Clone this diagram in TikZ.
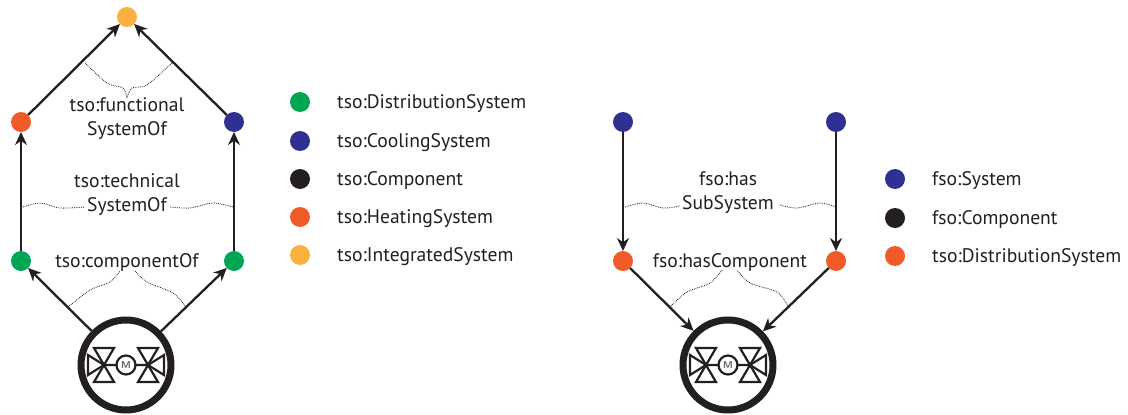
\documentclass[tikz,border=0pt]{standalone}
\usepackage{fontspec}
\setmainfont{PT Sans}
\usetikzlibrary{arrows.meta}
\definecolor{cgreen}{HTML}{00A651}
\definecolor{cnavy}{HTML}{2E3192}
\definecolor{cblack}{HTML}{231F20}
\definecolor{corange}{HTML}{F15A29}
\definecolor{cyellow}{HTML}{FBB040}
\tikzset{
	dot/.style={circle,fill=#1,minimum size=20pt,inner sep=0pt,outer sep=0pt},
	device/.style={circle,draw=cblack,line width=7pt,minimum size=90pt,inner sep=0pt},
	rel/.style={->,line width=2.3pt,draw=cblack},
	wavy/.style={densely dotted,line width=0.8pt,draw=cblack},
	lbl/.style={text=cblack,font=\fontsize{19.6}{24}\selectfont,align=center,inner sep=1pt},
	leg/.style={text=cblack,font=\fontsize{19.6}{24}\selectfont,anchor=west,inner sep=0pt},
	valve/.pic={
		\draw[cblack,line width=2.2pt,line join=miter] (-22,0)--(-38,-10)--(-38,10)--cycle;
		\draw[cblack,line width=2.2pt,line join=miter] (-22,0)--(-32,-17)--(-12,-17)--cycle (-22,0)--(-32,17)--(-12,17)--cycle;
		\draw[cblack,line width=2.2pt,line join=miter] (22,0)--(38,-10)--(38,10)--cycle;
		\draw[cblack,line width=2.2pt,line join=miter] (22,0)--(32,-17)--(12,-17)--cycle (22,0)--(32,17)--(12,17)--cycle;
		\draw[cblack,line width=2.2pt] (-22,0)--(-9.5,0) (9.5,0)--(22,0) (0,0) circle (9.5);
		\node[text=cblack!70,font=\sffamily\bfseries\fontsize{10}{10}\selectfont,inner sep=0pt] (-motor) at (0,0) {M};
	}
}
\begin{document}
\begin{tikzpicture}[x=1pt,y=-1pt,>={Stealth[length=13pt,width=12pt]},line join=round]
	\useasboundingbox (0,0) rectangle (1128,415);
	% left graph
	\node[dot=cyellow] (top) at (127,17) {};
	\node[dot=corange] (heat) at (21,122) {};
	\node[dot=cnavy] (cool) at (234,122) {};
	\node[dot=cgreen] (distL) at (21,261) {};
	\node[dot=cgreen] (distR) at (234,261) {};
	\node[device] (devL) at (126,365) {};
	\pic (valveL) at (126,365) {valve};
	\draw[rel] (devL)--(distL);
	\draw[rel] (devL)--(distR);
	\draw[rel] (distL)--(heat);
	\draw[rel] (distR)--(cool);
	\draw[rel] (heat)--(top);
	\draw[rel] (cool)--(top);
	\node[lbl] (functional) at (127,119) {tso:functional\\SystemOf};
	\node[lbl] (technical) at (127,195) {tso:technical\\SystemOf};
	\node[lbl] (componentOf) at (127,262) {tso:componentOf};
	\draw[wavy] plot[smooth] coordinates {(85,63) (107,83) (123,88) (127,98)};
	\draw[wavy] plot[smooth] coordinates {(172,63) (147,85) (132,88) (127,98)};
	\draw[wavy] plot[smooth] coordinates {(23,207) (40,203) (60,208) (85,207)};
	\draw[wavy] plot[smooth] coordinates {(170,207) (190,208) (213,203) (233,207)};
	\draw[wavy] plot[smooth] coordinates {(68,307) (90,290) (110,282) (120,271)};
	\draw[wavy] plot[smooth] coordinates {(186,307) (173,293) (147,282) (135,271)};
	% left legend
	\foreach \y/\c/\t in {102/cgreen/DistributionSystem,141/cnavy/CoolingSystem,179/cblack/Component,217/corange/HeatingSystem,255/cyellow/IntegratedSystem}{
		\node[dot=\c] (tdot\y) at (300,\y) {};
		\node[leg] (tlab\y) at (337,\y+1.5) {tso:\t};
	}
	% right graph
	\node[dot=cnavy] (sysL) at (623,122) {};
	\node[dot=cnavy] (sysR) at (836,122) {};
	\node[dot=corange] (subL) at (623,261) {};
	\node[dot=corange] (subR) at (836,261) {};
	\node[device] (devR) at (728,365) {};
	\pic (valveR) at (728,365) {valve};
	\draw[rel] (sysL)--(subL);
	\draw[rel] (sysR)--(subR);
	\draw[rel] (subL)--(devR);
	\draw[rel] (subR)--(devR);
	\node[lbl] (hasSub) at (728,193) {fso:has\\SubSystem};
	\node[lbl] (hasComp) at (730,262) {fso:hasComponent};
	\draw[wavy] plot[smooth] coordinates {(625,207) (643,203) (663,208) (680,206)};
	\draw[wavy] plot[smooth] coordinates {(780,205) (797,208) (820,203) (836,207)};
	\draw[wavy] plot[smooth] coordinates {(671,306) (687,292) (710,283) (722,270)};
	\draw[wavy] plot[smooth] coordinates {(788,306) (777,292) (750,283) (737,270)};
	% right legend
	\foreach \y/\c/\t in {179/cnavy/fso:System,218/cblack/fso:Component,256/corange/tso:DistributionSystem}{
		\node[dot=\c] (fdot\y) at (895,\y) {};
		\node[leg] (flab\y) at (932,\y+1.5) {\t};
	}
\end{tikzpicture}
\end{document}
